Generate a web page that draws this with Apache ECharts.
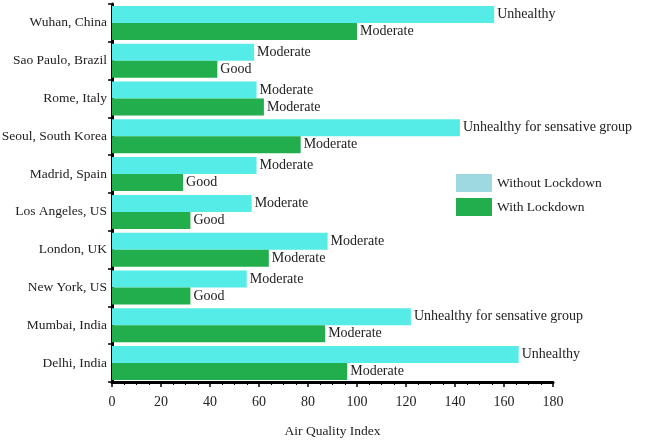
<!DOCTYPE html>
<html><head><meta charset="utf-8">
<script src="https://cdn.jsdelivr.net/npm/echarts@6/dist/echarts.min.js"></script>
<style>html,body{margin:0;padding:0;background:#fff}#c{width:649px;height:442px}</style>
</head><body><div id="c"></div>
<script>
const cities = ["Wuhan, China","Sao Paulo, Brazil","Rome, Italy","Seoul, South Korea","Madrid, Spain","Los Angeles, US","London, UK","New York, US","Mumbai, India","Delhi, India"];
const withoutLockdown = [156, 58, 59, 142, 59, 57, 88, 55, 122, 166];
const withLockdown = [100, 43, 62, 77, 29, 32, 64, 32, 87, 96];
const withoutLabels = ["Unhealthy","Moderate","Moderate","Unhealthy for sensative group","Moderate","Moderate","Moderate","Moderate","Unhealthy for sensative group","Unhealthy"];
const withLabels = ["Moderate","Good","Moderate","Moderate","Good","Good","Moderate","Good","Moderate","Moderate"];
const xTicks = [0,20,40,60,80,100,120,140,160,180];

const font = "Liberation Serif";
const chart = echarts.init(document.getElementById('c'));
chart.setOption({
  animation:false,
  textStyle:{fontFamily:font},
  grid:{left:112,right:96,top:4,bottom:60,containLabel:false,outerBoundsMode:'none'},
  legend:{
    left:451, top:169, orient:'vertical', itemWidth:36, itemHeight:18, itemGap:6,
    textStyle:{fontFamily:font,fontSize:13.5,color:'#222'},
    data:[
      {name:'Without Lockdown', icon:'rect', itemStyle:{color:'#9fd9e0'}},
      {name:'With Lockdown', icon:'rect', itemStyle:{color:'#22ae4c'}}
    ]
  },
  xAxis:{
    type:'value', min:xTicks[0], max:xTicks[xTicks.length-1], interval:20,
    name:'Air Quality Index', nameLocation:'middle', nameGap:42,
    nameTextStyle:{fontFamily:font,fontSize:13.5,color:'#222'},
    axisLine:{show:true,lineStyle:{color:'#000',width:3}},
    axisTick:{show:true,length:5,lineStyle:{color:'#000',width:1.5}},
    minorTick:{show:true,splitNumber:4,length:3,lineStyle:{color:'#000'}},
    splitLine:{show:false},
    axisLabel:{fontFamily:font,fontSize:14,color:'#222',margin:13}
  },
  yAxis:{
    type:'category', data:cities, inverse:true,
    axisLine:{show:true,lineStyle:{color:'#000',width:3}},
    axisTick:{show:true,length:4,lineStyle:{color:'#000',width:1.5}},
    axisLabel:{fontFamily:font,fontSize:13.5,color:'#222',margin:5}
  },
  series:[
    {name:'Without Lockdown', type:'bar', data:withoutLockdown, barGap:'0%', barCategoryGap:'10%',
     itemStyle:{color:'#55ebe6'},
     label:{show:true,position:'right',distance:3,fontFamily:font,fontSize:14,color:'#222',
       formatter:p=>withoutLabels[p.dataIndex]}},
    {name:'With Lockdown', type:'bar', data:withLockdown,
     itemStyle:{color:'#22ae4c'},
     label:{show:true,position:'right',distance:3,fontFamily:font,fontSize:14,color:'#222',
       formatter:p=>withLabels[p.dataIndex]}}
  ]
});
</script></body></html>
